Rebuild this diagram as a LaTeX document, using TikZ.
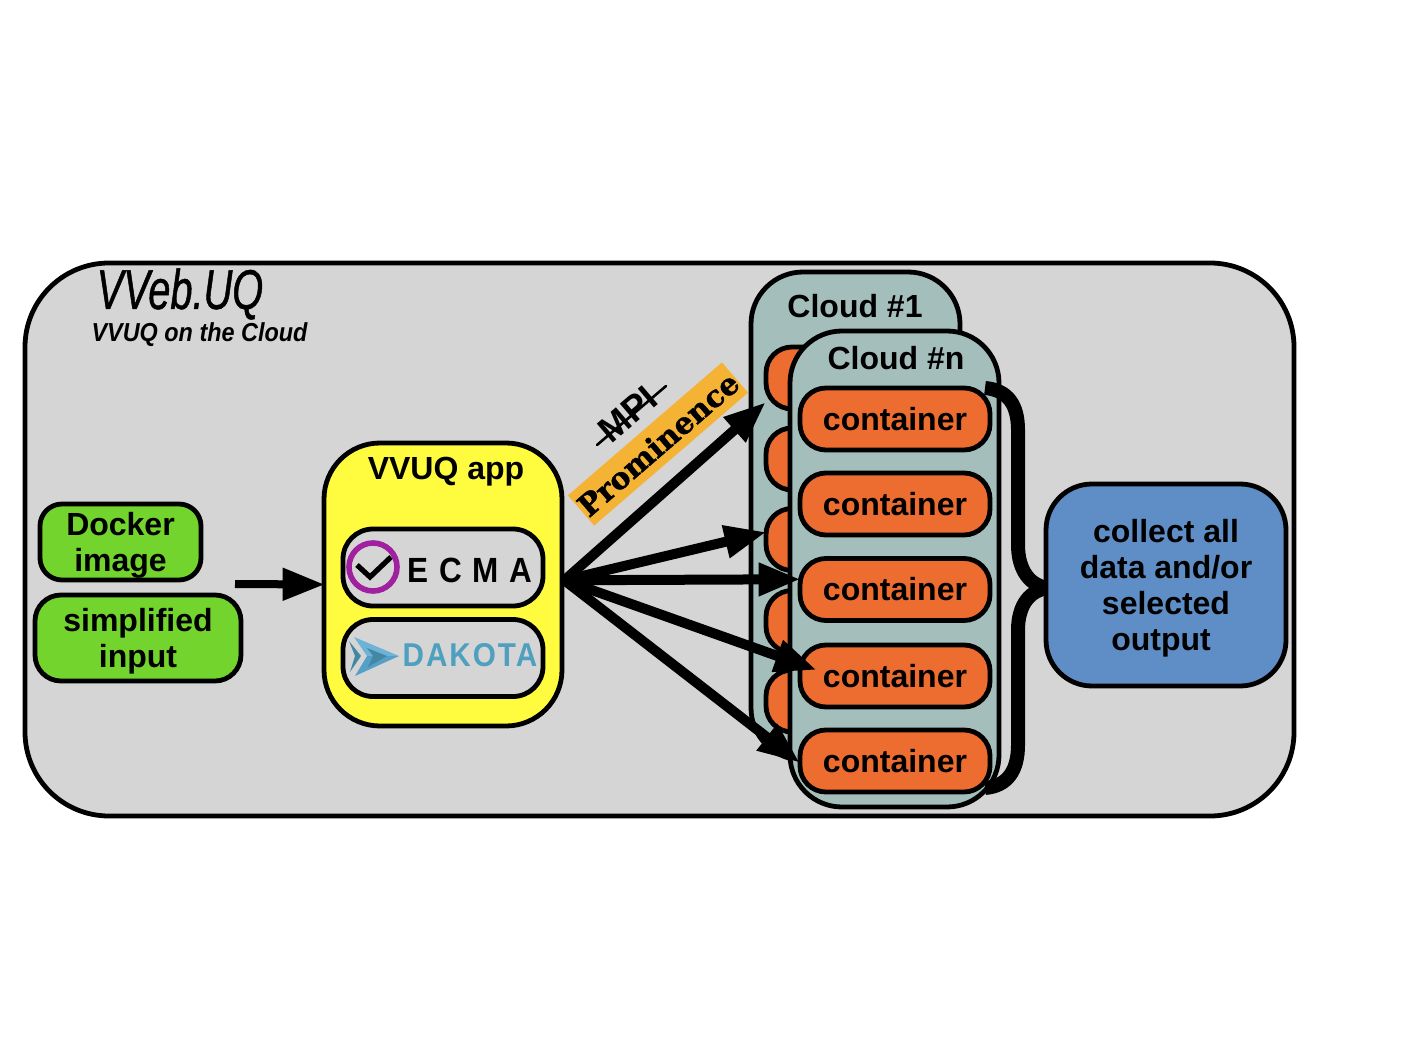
\documentclass[tikz,border=0pt]{standalone}
\usepackage{fontspec}
\setmainfont{Liberation Sans}
\newfontfamily\handfont[FakeStretch=0.71,FakeBold=0.8]{Liberation Sans}
\newfontfamily\subfont[FakeStretch=0.9]{Liberation Sans}
\newfontfamily\logofont[FakeStretch=0.9]{Liberation Sans}
\newfontfamily\slabfont[BoldFeatures={FakeBold=1.2}]{DejaVu Serif}
\newcommand{\lift}{\rule{0pt}{15pt}}
\usetikzlibrary{arrows.meta,positioning,calc}
\definecolor{outergrey}{HTML}{D5D5D5}
\definecolor{appyellow}{HTML}{FFFB3F}
\definecolor{inputgreen}{HTML}{72D42C}
\definecolor{cloudteal}{HTML}{A4BFBB}
\definecolor{boxorange}{HTML}{ED6C30}
\definecolor{outblue}{HTML}{5F8EC6}
\definecolor{bannergold}{HTML}{F5B335}
\definecolor{ecmapurple}{HTML}{A020A0}
\definecolor{dakotateal}{HTML}{4F9FBF}
\tikzset{
  box/.style={draw=black, line width=2.4pt, inner sep=0pt, align=center, font=\fontsize{16}{18}\selectfont\bfseries},
  inbox/.style={box, fill=inputgreen},
  logobox/.style={box, fill=outergrey, minimum width=100pt, minimum height=38.5pt, rounded corners=15pt},
  cloudbox/.style={box, fill=cloudteal, minimum width=104.5pt, rounded corners=26pt},
  container/.style={box, fill=boxorange, minimum width=95pt, minimum height=31pt, rounded corners=13pt},
  title/.style={inner sep=0pt, font=\fontsize{16}{18}\selectfont\bfseries},
  flow/.style={-{Triangle[length=21pt,width=15.5pt]}, line width=5pt, shorten >=-1.5pt},
}
\begin{document}
\begin{tikzpicture}[x=0.5pt,y=-0.5pt]
  \useasboundingbox (0,0) rectangle (1411,1058);
  \node[box, fill=outergrey, minimum width=634.5pt, minimum height=276.5pt, rounded corners=42pt] (vveb) at (659.5,539.5) {};
  \node[inner sep=0pt, font=\fontsize{28}{30}\selectfont\handfont\itshape] (vvebname) at (180,294) {VVeb.UQ};
  \node[inner sep=0pt, font=\fontsize{13}{14}\selectfont\subfont\bfseries\itshape] (vvebsub) at (199.5,335) {VVUQ on the Cloud};
  % inputs
  \node[inbox, minimum width=80.5pt, minimum height=38pt, rounded corners=11pt] (docker) at (120.5,542) {\lift Docker\\image};
  \node[inbox, minimum width=103pt, minimum height=43pt, rounded corners=13pt] (input) at (138,638) {\lift simplified\\input};
  \coordinate (inputs) at (235,584);
  % app
  \node[box, fill=appyellow, minimum width=119pt, minimum height=141.5pt, rounded corners=28pt] (app) at (443,584.5) {};
  \node[title] (applabel) at (446,472) {VVUQ app};
  \node[logobox] (ecma) at (443,567.5) {};
  \node[logobox] (dakota) at (443,658) {};
  \draw[draw=ecmapurple, line width=2.8pt] (373,567) circle[radius=24];
  \draw[line width=2.6pt] (357,565) -- (370,577) -- (391,557);
  \node[inner sep=0pt, font=\fontsize{17.5}{18}\selectfont\logofont\bfseries\addfontfeature{LetterSpace=31}] (ecmaname) at (470,570) {ECMA};
  \fill[dakotateal!85!black] (349,641) -- (361,656) -- (350,672) -- (355,656) -- cycle;
  \fill[cyan!40!dakotateal!80!white] (354,637) -- (399,656) -- (367,656) -- cycle;
  \fill[cyan!30!dakotateal] (355,676) -- (399,656) -- (367,656) -- cycle;
  \fill[dakotateal!85!black] (367,648) -- (387,656) -- (368,667) -- (373,656) -- cycle;
  \node[inner sep=0pt, text=dakotateal, font=\fontsize{16.5}{18}\selectfont\logofont\bfseries\addfontfeature{LetterSpace=6}] (dakotaname) at (470,655) {DAKOTA};
  % first cloud, mostly hidden
  \node[cloudbox, minimum height=244pt] (cloudone) at (855.5,516) {};
  \node[title] (cloudonelabel) at (855,306) {Cloud \#1};
  \foreach \y/\name in {378/bga,459/bgb,539.5/bgc,621.5/bgd,701/bge}{\node[container] (\name) at (861,\y) {};}
  % last cloud
  \node[cloudbox, minimum height=238pt] (cloudn) at (894.5,569) {};
  \node[title] (cloudnlabel) at (896,358) {Cloud \#n};
  \foreach \y/\name in {419/cona,504/conb,589.5/conc,676/cond,761/cone}{\node[container] (\name) at (895,\y) {container};}
  % output
  \coordinate (bracetop) at (985,388);
  \coordinate (bracebot) at (985,788);
  \draw[line width=7pt] (bracetop) .. controls (1008,390) and (1018,405) .. (1018,430) -- (1018,545) .. controls (1018,570) and (1030,587) .. (1050,588) .. controls (1030,589) and (1018,605) .. (1018,630) -- (1018,745) .. controls (1018,770) and (1008,786) .. (bracebot);
  \node[box, fill=outblue, minimum width=120pt, minimum height=101pt, rounded corners=23pt] (output) at (1166,585) {\lift collect all\\data and/or\\selected\\output\hspace*{5pt}};
  % labels over the arrows
  \node[fill=bannergold, minimum width=101.7pt, minimum height=20pt, inner sep=0pt, rotate=40.8, font=\fontsize{15}{16}\selectfont\slabfont\bfseries] (prominence) at (658,444) {Prominence};
  \node[inner sep=0pt, rotate=40.5, font=\fontsize{18}{18}\selectfont\bfseries] (mpi) at (628,414) {MPI};
  \coordinate (mpistart) at (597,445);
  \coordinate (mpiend) at (666,386);
  \draw[line width=1.3pt, line cap=round] (mpistart) -- (mpiend);
  % arrows
  \coordinate (tipd) at (814,669);
  \draw[flow, line width=4pt] (inputs) -- (app.west);
  \foreach \target in {bga.195,bgc.176,conc.174,tipd,cone.west}{\draw[flow] (app.2) -- (\target);}
\end{tikzpicture}
\end{document}
